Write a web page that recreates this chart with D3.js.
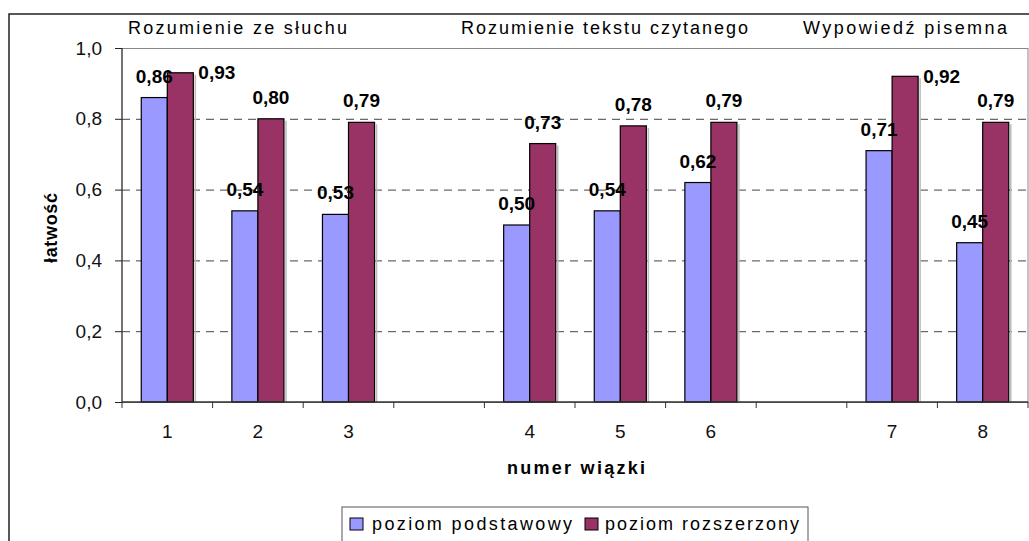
<!DOCTYPE html>
<html>
<head>
<meta charset="utf-8">
<script src="https://cdn.jsdelivr.net/npm/d3@7"></script>
<style>
  body { margin: 0; background: #fff; }
  svg { display: block; font-family: "Liberation Sans", Arial, sans-serif; }
</style>
</head>
<body>
<svg id="chart" width="1029" height="541"></svg>
<script>
// dane
const categories = ["1", "2", "3", null, "4", "5", "6", null, "7", "8"];
const podstawowy = [0.86, 0.54, 0.53, null, 0.50, 0.54, 0.62, null, 0.71, 0.45];
const rozszerzony = [0.93, 0.80, 0.79, null, 0.73, 0.78, 0.79, null, 0.92, 0.79];
const yTicks = [0, 0.2, 0.4, 0.6, 0.8, 1.0];
const sections = ["Rozumienie ze słuchu", "Rozumienie tekstu czytanego", "Wypowiedź pisemna"];
const seriesNames = ["poziom podstawowy", "poziom rozszerzony"];
const colors = ["#9999FF", "#993366"];

const svg = d3.select("#chart");
const plot = { left: 122, right: 1028, top: 48, bottom: 402 };
const fmt = v => d3.format(".2f")(v).replace(".", ",");

// ramka całego wykresu
svg.append("rect")
  .attr("x", 9).attr("y", 14).attr("width", 1100).attr("height", 600)
  .attr("fill", "none").attr("stroke", "#222").attr("stroke-width", 1.5);

const x = d3.scaleBand().domain(d3.range(categories.length))
  .range([plot.left, plot.right]).paddingInner(0).paddingOuter(0);
const xs = d3.scaleBand().domain([0, 1]).range([0, x.bandwidth()])
  .paddingInner(0).paddingOuter(0.74);
const y = d3.scaleLinear().domain([0, 1]).range([plot.bottom, plot.top]);

// siatka
svg.append("g").selectAll("line").data(yTicks.filter(t => t > 0 && t < 1)).join("line")
  .attr("x1", plot.left).attr("x2", plot.right)
  .attr("y1", d => y(d) + 0.5).attr("y2", d => y(d) + 0.5)
  .attr("stroke", "#444").attr("stroke-dasharray", "8,6");

// obramowanie obszaru kreślenia
svg.append("rect")
  .attr("x", plot.left).attr("y", plot.top + 0.5)
  .attr("width", plot.right - plot.left).attr("height", plot.bottom - plot.top)
  .attr("fill", "none").attr("stroke", "#888");

// słupki
const series = [podstawowy, rozszerzony];
const bars = [];
series.forEach((vals, s) => {
  vals.forEach((v, i) => {
    if (v == null) return;
    bars.push({ s, i, v });
  });
});

// lekki cień z prawej strony słupków
svg.append("g").selectAll("line").data(bars.filter(d => d.s === 1)).join("line")
  .attr("x1", d => x(d.i) + xs(d.s) + xs.bandwidth() + 2)
  .attr("x2", d => x(d.i) + xs(d.s) + xs.bandwidth() + 2)
  .attr("y1", d => y(d.v) + 2).attr("y2", plot.bottom)
  .attr("stroke", "#bbb").attr("stroke-width", 1.5);

svg.append("g").selectAll("rect").data(bars).join("rect")
  .attr("x", d => x(d.i) + xs(d.s))
  .attr("y", d => y(d.v))
  .attr("width", xs.bandwidth())
  .attr("height", d => plot.bottom - y(d.v))
  .attr("fill", d => colors[d.s])
  .attr("stroke", "#000").attr("stroke-width", 1.2);

// osie
const yAxis = svg.append("g").attr("transform", `translate(${plot.left},0)`)
  .call(d3.axisLeft(y).tickValues(yTicks).tickSize(7).tickPadding(13)
    .tickFormat(d => d3.format(".1f")(d).replace(".", ",")));
yAxis.select(".domain").attr("stroke", "#222").attr("d", `M0,${plot.top}V${plot.bottom}`);
yAxis.selectAll(".tick line").attr("stroke", "#222");
yAxis.selectAll("text").attr("font-size", 19).attr("fill", "#111")
  .attr("font-family", "Liberation Sans, Arial, sans-serif");

const xAxisG = svg.append("g").attr("transform", `translate(0,${plot.bottom})`);
xAxisG.append("line").attr("x1", plot.left).attr("x2", plot.right)
  .attr("y1", 0).attr("y2", 0).attr("stroke", "#333").attr("stroke-width", 1.5);
xAxisG.selectAll("line.tk").data(d3.range(categories.length + 1)).join("line")
  .attr("class", "tk")
  .attr("x1", d => plot.left + d * x.step()).attr("x2", d => plot.left + d * x.step())
  .attr("y1", 0).attr("y2", 6).attr("stroke", "#333");
xAxisG.selectAll("text").data(categories.map((c, i) => ({ c, i })).filter(d => d.c)).join("text")
  .attr("x", d => x(d.i) + x.bandwidth() / 2).attr("y", 36)
  .attr("text-anchor", "middle").attr("font-size", 19).attr("fill", "#111")
  .text(d => d.c);

// etykiety wartości
const labelH = 13;
svg.append("g").selectAll("text").data(bars).join("text")
  .each(function(d) {
    const bx = x(d.i) + xs(d.s);
    const top = y(d.v);
    const t = d3.select(this);
    if (top - 15 - labelH < plot.top + 5) {
      t.attr("x", bx + xs.bandwidth() + 5).attr("y", top + 6.5).attr("text-anchor", "start");
    } else {
      t.attr("x", bx + xs.bandwidth() / 2).attr("y", top - 15).attr("text-anchor", "middle");
    }
  })
  .attr("font-size", 19).attr("font-weight", "bold").attr("fill", "#000")
  .text(d => fmt(d.v));

// tytuły sekcji
const sectionPos = [{ x: 128, w: 219 }, { x: 461, w: 287 }, { x: 803, w: 204 }];
svg.append("g").selectAll("text").data(sections).join("text")
  .attr("x", (d, i) => sectionPos[i].x).attr("y", 34)
  .attr("font-size", 18).attr("fill", "#000")
  .attr("textLength", (d, i) => sectionPos[i].w).attr("lengthAdjust", "spacing")
  .text(d => d);

// tytuły osi
svg.append("text")
  .attr("transform", `translate(57,${(plot.top + plot.bottom) / 2 + 3}) rotate(-90)`)
  .attr("text-anchor", "middle").attr("font-size", 18).attr("font-weight", "bold")
  .attr("textLength", 70).attr("lengthAdjust", "spacing")
  .text("łatwość");

svg.append("text")
  .attr("x", (plot.left + plot.right) / 2 + 1).attr("y", 474)
  .attr("text-anchor", "middle").attr("font-size", 18).attr("font-weight", "bold")
  .attr("textLength", 138).attr("lengthAdjust", "spacing")
  .text("numer wiązki");

// legenda
const legend = svg.append("g");
legend.append("rect")
  .attr("x", 342).attr("y", 507).attr("width", 466).attr("height", 60)
  .attr("fill", "#fff").attr("stroke", "#555");
const legItems = [{ sx: 350, tx: 372, tw: 200 }, { sx: 585, tx: 605, tw: 194 }];
legItems.forEach((it, i) => {
  legend.append("rect").attr("x", it.sx).attr("y", 518).attr("width", 13).attr("height", 12)
    .attr("fill", colors[i]).attr("stroke", "#000");
  legend.append("text").attr("x", it.tx).attr("y", 530)
    .attr("font-size", 18).attr("fill", "#000")
    .attr("textLength", it.tw).attr("lengthAdjust", "spacing")
    .text(seriesNames[i]);
});
</script>
</body>
</html>
